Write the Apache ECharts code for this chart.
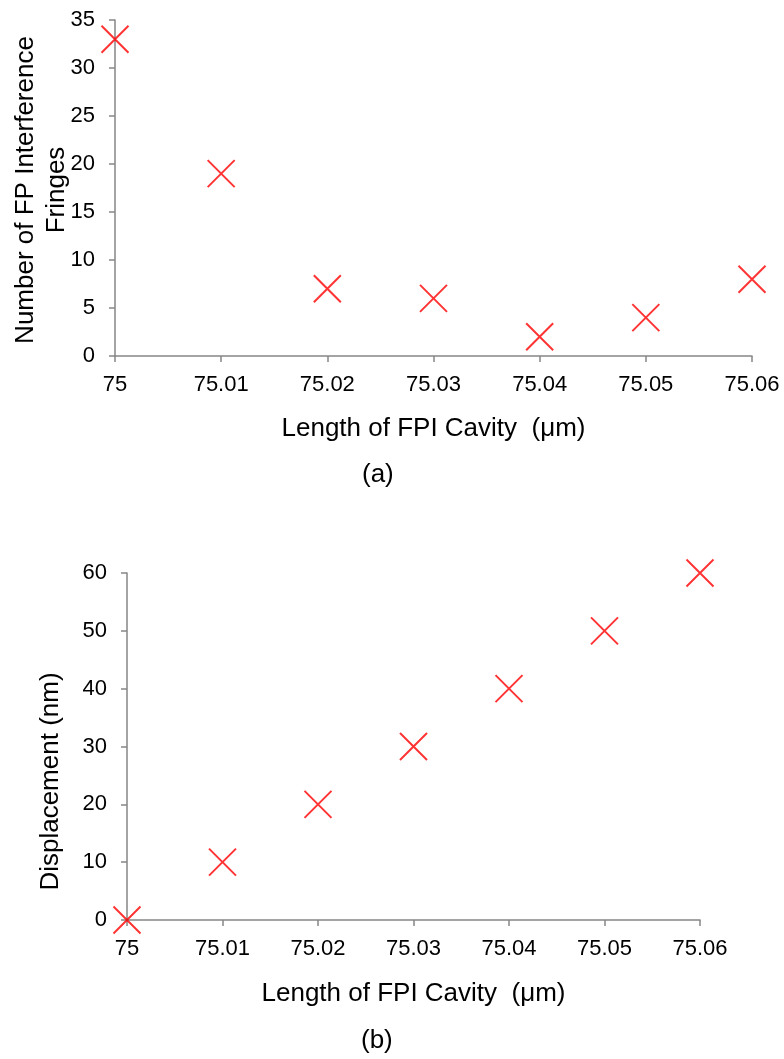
<!DOCTYPE html>
<html>
<head>
<meta charset="utf-8">
<script src="https://cdn.jsdelivr.net/npm/echarts@6/dist/echarts.min.js"></script>
<style>
  html, body { margin: 0; padding: 0; background: #fff; }
  #chart { width: 784px; height: 1059px; }
</style>
</head>
<body>
<div id="chart"></div>
<script>
// cavity length (um), shared by both panels
var lengths = [75, 75.01, 75.02, 75.03, 75.04, 75.05, 75.06];
// panel (a): number of FP interference fringes
var fringes = [33, 19, 7, 6, 2, 4, 8];
// panel (b): displacement (nm)
var displacement = [0, 10, 20, 30, 40, 50, 60];

var crossPath = 'path://M0 0 L10 10 M10 0 L0 10';
var axisGray = '#868686';
var font = 'Liberation Sans, Arial, sans-serif';

function pairs(xs, ys) {
  var out = [];
  for (var i = 0; i < xs.length; i++) out.push([xs[i], ys[i]]);
  return out;
}

function xAxisCfg(gridIndex, gap) {
  return {
    type: 'value',
    gridIndex: gridIndex,
    min: 75,
    max: 75.06,
    interval: 0.01,
    name: 'Length of FPI Cavity  (μm)',
    nameLocation: 'middle',
    nameGap: gap,
    nameMoveOverlap: false,
    nameTextStyle: { fontSize: 26, color: '#000', fontFamily: font },
    splitLine: { show: false },
    axisLine: { lineStyle: { color: axisGray, width: 1.5 } },
    axisTick: { show: true, length: 6, lineStyle: { color: axisGray, width: 1.5 } },
    axisLabel: {
      fontSize: 22, color: '#000', fontFamily: font, margin: 18,
      formatter: function (v) { return String(parseFloat(v.toFixed(2))); }
    }
  };
}

function yAxisCfg(gridIndex, max, interval, name, gap, shift) {
  return {
    type: 'value',
    gridIndex: gridIndex,
    min: 0,
    max: max,
    interval: interval,
    name: name,
    nameLocation: 'middle',
    nameGap: gap,
    nameMoveOverlap: false,
    nameTextStyle: {
      fontSize: 26, color: '#000', fontFamily: font, lineHeight: 31,
      padding: [0, shift, 0, 0]
    },
    splitLine: { show: false },
    axisLine: { show: true, lineStyle: { color: axisGray, width: 1.5 } },
    axisTick: { show: true, length: 6, lineStyle: { color: axisGray, width: 1.5 } },
    axisLabel: { fontSize: 22, color: '#000', fontFamily: font, margin: 20 }
  };
}

function crossSeries(idx, data) {
  return {
    type: 'scatter',
    xAxisIndex: idx,
    yAxisIndex: idx,
    data: data,
    symbol: crossPath,
    symbolSize: 27,
    itemStyle: { color: 'transparent', borderColor: '#ff0000', borderWidth: 2 },
    animation: false
  };
}

var chart = echarts.init(document.getElementById('chart'));
chart.setOption({
  backgroundColor: '#fff',
  animation: false,
  grid: [
    { left: 115, right: 32, top: 20, height: 336, containLabel: false, outerBoundsMode: 'none' },
    { left: 127, right: 84, top: 573, height: 347, containLabel: false, outerBoundsMode: 'none' }
  ],
  xAxis: [xAxisCfg(0, 60), xAxisCfg(1, 61)],
  yAxis: [
    yAxisCfg(0, 35, 5, 'Number of FP Interference\nFringes', 43, 4),
    yAxisCfg(1, 60, 10, 'Displacement (nm)', 61, 70)
  ],
  series: [
    crossSeries(0, pairs(lengths, fringes)),
    crossSeries(1, pairs(lengths, displacement))
  ],
  graphic: [
    { type: 'text', left: 362, top: 462, style: { text: '(a)', font: '26px ' + font, fill: '#000' } },
    { type: 'text', left: 361, top: 1028, style: { text: '(b)', font: '26px ' + font, fill: '#000' } }
  ]
});
</script>
</body>
</html>
